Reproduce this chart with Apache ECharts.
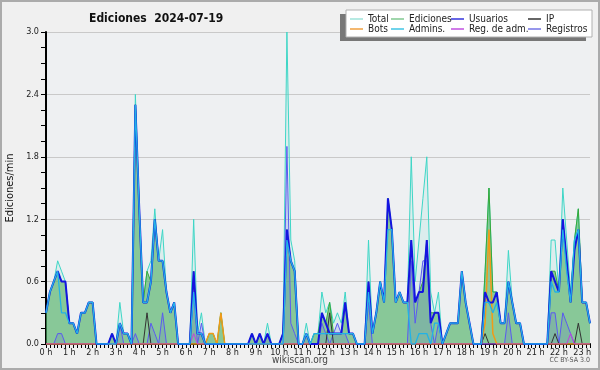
<!DOCTYPE html>
<html><head><meta charset="utf-8">
<script src="https://cdn.jsdelivr.net/npm/echarts@6/dist/echarts.min.js"></script>
<style>html,body{margin:0;padding:0;background:#f0f0f0}#c{width:600px;height:370px}</style>
</head><body><div id="c"></div>
<script>
// 10-minute samples, 00:00 .. 23:20
const hourLabels = ['0 h','1 h','2 h','3 h','4 h','5 h','6 h','7 h','8 h','9 h','10 h','11 h','12 h','13 h','14 h','15 h','16 h','17 h','18 h','19 h','20 h','21 h','22 h','23 h'];
const yTicks = [0, 0.6, 1.2, 1.8, 2.4, 3.0];

const total = [
0.3,0.5,0.6,0.8,0.7,0.6,
0.2,0.2,0.1,0.3,0.3,0.4,
0.4,0,0,0,0,0.1,
0,0.4,0.1,0.1,0,2.4,
1.3,0.4,0.7,0.8,1.3,0.8,
1.1,0.5,0.3,0.4,0,0,
0,0,1.2,0.1,0.3,0,
0.1,0.1,0,0.3,0,0,
0,0,0,0,0,0.1,
0,0.1,0,0.2,0,0,
0,0.1,3.0,1.0,0.8,0,
0,0.2,0,0.1,0.1,0.5,
0.3,0.4,0.2,0.3,0.2,0.5,
0.1,0.1,0,0,0,1.0,
0.1,0.3,0.6,0.4,1.4,1.1,
0.4,0.5,0.4,0.4,1.8,0.6,
1.0,1.4,1.8,0.5,0.3,0.5,
0,0.1,0.2,0.2,0.2,0.7,
0.4,0.2,0,0,0,0.7,
1.5,0.5,0.5,0.2,0.2,0.9,
0.4,0.2,0.2,0,0,0,
0,0,0,0,1.0,1.0,
0.5,1.5,1.0,0.5,1.0,1.3,
0.4,0.4,0.2];

const ediciones = [
0.3,0.5,0.6,0.7,0.6,0.6,
0.2,0.2,0.1,0.3,0.3,0.4,
0.4,0,0,0,0,0.1,
0,0.2,0.1,0.1,0,2.3,
1.3,0.4,0.7,0.6,1.2,0.8,
0.8,0.5,0.3,0.4,0,0,
0,0,0.7,0.1,0.1,0,
0.1,0.1,0,0.3,0,0,
0,0,0,0,0,0.1,
0,0.1,0,0.1,0,0,
0,0.1,1.1,0.8,0.7,0,
0,0.1,0,0.1,0.1,0.3,
0.2,0.4,0.1,0.1,0.1,0.4,
0.1,0.1,0,0,0,0.6,
0.1,0.3,0.6,0.4,1.4,1.1,
0.4,0.5,0.4,0.4,1.0,0.4,
0.5,0.6,1.0,0.3,0.3,0.3,
0,0.1,0.2,0.2,0.2,0.7,
0.4,0.2,0,0,0,0.7,
1.5,0.5,0.5,0.2,0.2,0.6,
0.4,0.2,0.2,0,0,0,
0,0,0,0,0.7,0.7,
0.5,1.2,0.8,0.4,1.0,1.3,
0.4,0.4,0.2];

const usuarios = [
0.3,0.5,0.6,0.7,0.6,0.6,
0.2,0.2,0.1,0.3,0.3,0.4,
0.4,0,0,0,0,0.1,
0,0.2,0.1,0.1,0,2.3,
1.3,0.4,0.4,0.6,1.2,0.8,
0.8,0.5,0.3,0.4,0,0,
0,0,0.7,0.1,0.1,0,
0,0,0,0,0,0,
0,0,0,0,0,0.1,
0,0.1,0,0.1,0,0,
0,0.1,1.1,0.8,0.7,0,
0,0.1,0,0,0,0.3,
0.2,0.1,0.1,0.1,0.1,0.4,
0.1,0.1,0,0,0,0.6,
0.1,0.3,0.6,0.4,1.4,1.1,
0.4,0.5,0.4,0.4,1.0,0.4,
0.5,0.5,1.0,0.2,0.3,0.3,
0,0.1,0.2,0.2,0.2,0.7,
0.4,0.2,0,0,0,0.5,
0.4,0.4,0.5,0.2,0.2,0.6,
0.4,0.2,0.2,0,0,0,
0,0,0,0,0.7,0.6,
0.5,1.2,0.8,0.4,0.9,1.1,
0.4,0.4,0.2];

const ip = [
0,0,0,0,0,0, 0,0,0,0,0,0, 0,0,0,0,0,0, 0,0,0,0,0,0,
0,0,0.3,0,0,0, 0,0,0,0,0,0, 0,0,0,0,0,0, 0,0,0,0,0,0,
0,0,0,0,0,0, 0,0,0,0,0,0, 0,0,0,0,0,0, 0,0,0,0,0,0,
0,0.3,0,0,0,0, 0,0,0,0,0,0, 0,0,0,0,0,0, 0,0,0,0,0,0,
0,0,0,0,0,0, 0,0,0,0,0,0, 0,0,0,0,0,0.1, 0,0,0,0,0,0,
0,0,0,0,0,0, 0,0,0,0,0,0.1, 0,0,0,0,0,0.2, 0,0,0];

const bots = [
0,0,0,0,0,0, 0,0,0,0,0,0, 0,0,0,0,0,0, 0,0,0,0,0,0,
0,0,0,0,0,0, 0,0,0,0,0,0, 0,0,0,0,0,0, 0.1,0.1,0,0.3,0,0,
0,0,0,0,0,0, 0,0,0,0,0,0, 0,0,0,0,0,0, 0,0,0,0,0,0,
0,0,0,0,0,0, 0,0,0,0,0,0, 0,0,0,0,0,0, 0,0,0,0,0,0,
0,0,0,0,0,0, 0,0,0,0,0,0, 0,0,0,0,0,0.2, 1.1,0.1,0,0,0,0,
0,0,0,0,0,0, 0,0,0,0,0,0, 0,0,0,0,0,0, 0,0,0];

const admins = [
0.3,0.5,0.6,0.7,0.3,0.3,
0.2,0.2,0.1,0.3,0.3,0.4,
0.4,0,0,0,0,0,
0,0.2,0.1,0.1,0,2.3,
1.3,0.4,0.4,0.6,1.2,0.8,
0.8,0.5,0.3,0.4,0,0,
0,0,0.5,0.1,0.1,0,
0,0,0,0,0,0,
0,0,0,0,0,0,
0,0,0,0,0,0,
0,0,1.0,0.8,0.7,0,
0,0.1,0,0.1,0.1,0.1,
0.1,0.1,0.1,0.1,0.1,0.1,
0.1,0.1,0,0,0,0.5,
0.1,0.3,0.6,0.4,1.1,1.1,
0.4,0.5,0.4,0.4,0,0,
0.1,0.1,0.1,0,0.2,0.2,
0,0.1,0.2,0.2,0.2,0.7,
0.4,0.2,0,0,0,0.4,
0.4,0.3,0.4,0.2,0.2,0.6,
0.4,0.2,0.2,0,0,0,
0,0,0,0,0.6,0.5,
0.5,1.1,0.7,0.4,1.0,1.1,
0.4,0.4,0.2];

const regAdm = [
0,0,0,0,0,0, 0,0,0,0,0,0, 0,0,0,0,0,0, 0,0,0,0,0,0,
0,0,0,0,0,0, 0,0,0,0,0,0, 0,0,0.1,0,0,0, 0,0,0,0,0,0,
0,0,0,0,0,0, 0,0,0,0,0,0, 0,0,0,0,0,0, 0,0,0,0,0,0,
0,0,0,0,0,0, 0,0,0,0,0,0, 0,0,0,0,0,0, 0,0,0,0,0,0,
0,0,0,0,0,0, 0,0,0,0,0,0, 0,0,0,0,0,0, 0,0,0,0,0,0,
0,0,0,0,0,0, 0,0,0,0,0,0, 0,0,0,0.1,0,0, 0,0,0];

const registros = [
0,0,0,0.1,0.1,0,
0,0,0,0,0,0,
0,0,0,0,0,0,
0,0.2,0,0,0,0.1,
0,0,0,0.2,0.1,0,
0.3,0,0,0,0,0,
0,0,0.5,0,0.2,0,
0,0,0,0,0,0,
0,0,0,0,0,0,
0,0,0,0.1,0,0,
0,0,1.9,0.2,0.1,0,
0,0.1,0,0,0,0.2,
0.1,0,0.1,0.2,0.1,0.1,
0,0,0,0,0,0.4,
0,0,0,0,0,0,
0,0,0,0,0.8,0.2,
0.5,0.8,0.8,0.2,0,0.2,
0,0,0,0,0,0,
0,0,0,0,0,0,
0,0,0,0,0,0.3,
0,0,0,0,0,0,
0,0,0,0,0.3,0.3,
0,0.3,0.2,0.1,0,0,
0,0,0];

const categories = [];
for (let i = 0; i < total.length; i++) {
  const h = Math.floor(i / 6), m = (i % 6) * 10;
  categories.push(h + ':' + (m < 10 ? '0' : '') + m);
}

const FONT = "'DejaVu Sans Condensed', 'DejaVu Sans', sans-serif";

function ser(name, data, color, width, area) {
  const s = {
    name, type: 'line', data, symbol: 'none', showSymbol: false,
    lineStyle: { color, width }, itemStyle: { color },
    animation: false, emphasis: { disabled: true }
  };
  if (area) s.areaStyle = { color: area, opacity: 1 };
  return s;
}

const legendCommon = {
  orient: 'vertical', icon: 'rect', itemWidth: 13, itemHeight: 1.5, itemGap: 0,
  padding: 0, selectedMode: false, z: 10,
  textStyle: { fontFamily: FONT, fontSize: 10, lineHeight: 10, color: '#222' }
};

const chart = echarts.init(document.getElementById('c'), null, { renderer: 'canvas' });
chart.setOption({
  backgroundColor: '#f0f0f0',
  animation: false,
  title: {
    text: 'Ediciones  2024-07-19', left: 84, top: 8,
    textStyle: { fontFamily: FONT, fontSize: 12, fontWeight: 'bold', color: '#111' }
  },
  legend: [
    Object.assign({ left: 350, top: 14, data: [
      { name: 'Total', itemStyle: { color: '#9fe3da' } },
      { name: 'Bots', itemStyle: { color: '#f0a040' } }] }, legendCommon),
    Object.assign({ left: 391, top: 14, data: [
      { name: 'Ediciones', itemStyle: { color: '#80c890' } },
      { name: 'Admins.', itemStyle: { color: '#40c4e4' } }] }, legendCommon),
    Object.assign({ left: 451, top: 14, data: [
      { name: 'Usuarios', itemStyle: { color: '#3434dc' } },
      { name: 'Reg. de adm.', itemStyle: { color: '#c050e0' } }] }, legendCommon),
    Object.assign({ left: 528, top: 14, data: [
      { name: 'IP', itemStyle: { color: '#333333' } },
      { name: 'Registros', itemStyle: { color: '#7474e6' } }] }, legendCommon)
  ],
  grid: { left: 46, right: 10, top: 32, bottom: 26, show: true, backgroundColor: '#eef0f2', borderWidth: 0,
          containLabel: false, outerBoundsMode: 'none' },
  xAxis: {
    type: 'category', data: categories, boundaryGap: false,
    axisLine: { lineStyle: { color: '#000', width: 2 } },
    axisTick: { interval: 0, length: 4, lineStyle: { color: '#000', width: 1 } },
    axisLabel: {
      interval: (idx) => idx % 6 === 0,
      formatter: (val, idx) => hourLabels[Math.floor(idx / 6)],
      fontFamily: FONT, fontSize: 9, color: '#222', margin: 4
    },
    splitLine: { show: false }
  },
  yAxis: {
    type: 'value', min: yTicks[0], max: yTicks[yTicks.length - 1], interval: 0.6,
    name: 'Ediciones/min', nameLocation: 'middle', nameGap: 29, nameRotate: 90,
    nameTextStyle: { fontFamily: FONT, fontSize: 11, color: '#111' },
    axisLine: { show: true, lineStyle: { color: '#000', width: 2 } },
    axisTick: { show: true, length: 5, lineStyle: { color: '#000', width: 1 } },
    minorTick: { show: true, splitNumber: 4, length: 5, lineStyle: { color: '#000', width: 1 } },
    axisLabel: { formatter: (v) => v.toFixed(1), fontFamily: FONT, fontSize: 9, color: '#222', margin: 7 },
    splitLine: { lineStyle: { color: '#c9c9c9', width: 1 } }
  },
  series: [
    ser('Total', total, '#3ed6c6', 1, 'rgba(64,214,198,0.10)'),
    ser('Ediciones', ediciones, '#38a838', 1, 'rgba(80,175,95,0.6)'),
    ser('Registros', registros, '#5a5af0', 1, 'rgba(80,80,235,0.14)'),
    ser('IP', ip, '#333333', 1),
    ser('Bots', bots, '#f09a18', 1.5),
    ser('Reg. de adm.', regAdm, '#c040e0', 1),
    ser('Usuarios', usuarios, '#1414e0', 2),
    ser('Admins.', admins, '#22b2e6', 1.3)
  ],
  graphic: [
    { type: 'rect', z: 100, silent: true, shape: { x: 1, y: 1, width: 598, height: 368 },
      style: { fill: 'none', stroke: '#ababab', lineWidth: 2 } },
    { type: 'rect', z: 5, silent: true, shape: { x: 340, y: 14, width: 246, height: 27 },
      style: { fill: '#777777' } },
    { type: 'rect', z: 6, silent: true, shape: { x: 346, y: 10, width: 246, height: 27 },
      style: { fill: '#ffffff', stroke: '#b0b0b0', lineWidth: 1 } },
    { type: 'text', z: 10, silent: true, left: 'center', top: 355,
      style: { text: 'wikiscan.org', font: "10px 'DejaVu Sans Condensed', 'DejaVu Sans', sans-serif", fill: '#444' } },
    { type: 'text', z: 10, silent: true, right: 10, top: 357,
      style: { text: 'CC BY-SA 3.0', font: "7px 'DejaVu Sans Condensed', 'DejaVu Sans', sans-serif", fill: '#555' } }
  ]
});
</script>
</body></html>
